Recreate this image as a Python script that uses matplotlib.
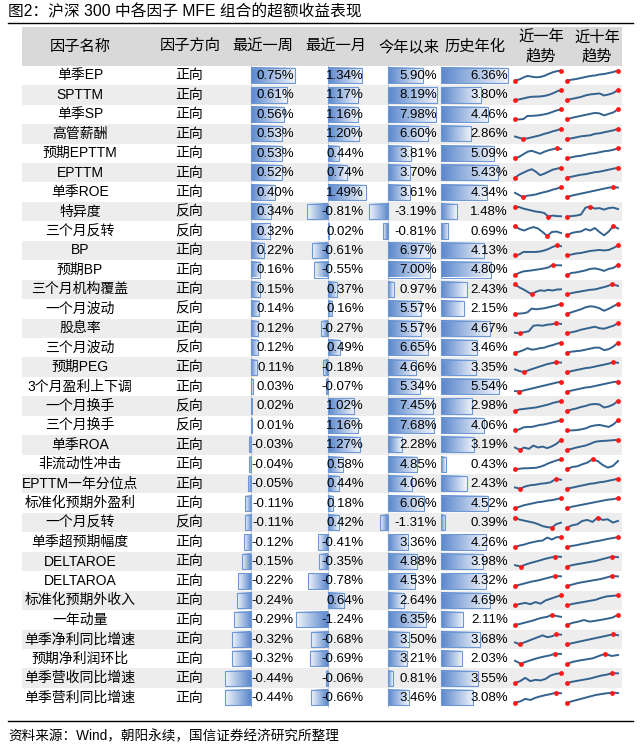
import numpy as np
import matplotlib
matplotlib.use("Agg")
import matplotlib.pyplot as plt
from matplotlib.patches import Rectangle
from matplotlib.colors import LinearSegmentedColormap

plt.rcParams["font.family"] = ["Liberation Sans", "Noto Sans CJK SC", "DejaVu Sans"]

names = ["单季EP", "SPTTM", "单季SP", "高管薪酬", "预期EPTTM", "EPTTM", "单季ROE", "特异度",
         "三个月反转", "BP", "预期BP", "三个月机构覆盖", "一个月波动", "股息率", "三个月波动",
         "预期PEG", "3个月盈利上下调", "一个月换手", "三个月换手", "单季ROA", "非流动性冲击",
         "EPTTM一年分位点", "标准化预期外盈利", "一个月反转", "单季超预期幅度", "DELTAROE",
         "DELTAROA", "标准化预期外收入", "一年动量", "单季净利同比增速", "预期净利润环比",
         "单季营收同比增速", "单季营利同比增速"]
direction = ["正向"] * 7 + ["反向", "反向"] + ["正向"] * 3 + ["反向", "正向", "反向", "正向", "正向",
             "反向", "反向", "正向", "正向", "正向", "正向", "反向"] + ["正向"] * 9
week = [0.75, 0.61, 0.56, 0.53, 0.53, 0.52, 0.40, 0.34, 0.32, 0.22, 0.16, 0.15, 0.14, 0.12, 0.12,
        0.11, 0.03, 0.02, 0.01, -0.03, -0.04, -0.05, -0.11, -0.11, -0.12, -0.15, -0.22, -0.24,
        -0.29, -0.32, -0.32, -0.44, -0.44]
month = [1.34, 1.17, 1.16, 1.20, 0.44, 0.74, 1.49, -0.81, 0.02, -0.61, -0.55, 0.37, 0.16, -0.27,
         0.49, -0.18, -0.07, 1.02, 1.16, 1.27, 0.58, 0.44, 0.18, 0.42, -0.41, -0.35, -0.78, 0.64,
         -1.24, -0.68, -0.69, -0.06, -0.66]
ytd = [5.90, 8.19, 7.98, 6.60, 3.81, 3.70, 3.61, -3.19, -0.81, 6.97, 7.00, 0.97, 5.57, 5.57, 6.65,
       4.66, 5.34, 7.45, 7.68, 2.28, 4.85, 4.06, 6.06, -1.31, 3.36, 4.88, 4.53, 2.64, 6.35, 3.50,
       3.21, 0.81, 3.46]
hist = [6.36, 3.80, 4.46, 2.86, 5.09, 5.43, 4.34, 1.48, 0.69, 4.13, 4.80, 2.43, 2.15, 4.67, 3.46,
        3.35, 5.54, 2.98, 4.06, 3.19, 0.43, 2.43, 4.52, 0.39, 4.26, 3.98, 4.32, 4.69, 2.11, 3.68,
        2.03, 3.55, 3.08]

# sparkline shapes (relative level 0..10)
trend_1y = [
    [0, 1, 3, 4.6, 3.8, 3.2, 3.5, 4.6, 6.5, 8.2, 9.3, 10],
    [0, 0.5, 1.5, 2.5, 3.2, 3.3, 3.5, 4, 5, 6.5, 8.5, 10],
    [0, 0, 0.3, 3.5, 3.5, 3.8, 4.3, 5, 6, 7.5, 9, 10],
    [2.3, 1, 0, 0.5, 1.5, 2.5, 3.5, 5, 6, 7.5, 8.5, 10],
    [0, 1.5, 4, 6.5, 7.5, 6, 4.5, 6.5, 8, 9, 10, 9.3],
    [0, 3, 5, 7, 8.5, 6, 2.5, 4, 6, 8, 9, 10],
    [4.3, 2, 0, 1.5, 2, 2.7, 4, 5, 6, 7.5, 8.5, 10],
    [10, 9.5, 8, 7, 6, 5, 4.5, 3.5, 0, 1, 0.5, 0.3],
    [10, 7, 5.5, 7.5, 9, 7.5, 4, 0, 4, 4.5, 3],
    [0, 1, 3.5, 3.5, 3.5, 3.5, 4, 5, 6.5, 8.5, 10, 9.3],
    [0, 2, 3.5, 4, 4.5, 5.2, 5.8, 6.5, 7.5, 10, 9.6, 9.6],
    [10, 7, 5, 2.5, 0, 2.5, 4, 3.5, 4.5, 3.8, 4.8, 5],
    [0, 0.2, 0.5, 1.5, 5.2, 4.5, 5, 5.5, 6.5, 7.5, 8.5, 10],
    [0.5, 0, 1, 2, 7.5, 8, 7.5, 8.5, 9, 10, 9.3],
    [0, 1, 2.5, 4.5, 3, 3.5, 4.5, 5, 6.5, 7.5, 9, 10],
    [2.7, 1, 0, 2, 3.5, 5, 6.5, 8, 9, 10, 9.5],
    [0.5, 0, 1, 2, 3, 4, 5, 6, 7, 8, 9, 10],
    [0, 1.5, 2, 2.5, 3, 3.5, 4.5, 5.5, 6.5, 8, 9, 10],
    [0, 1, 3, 3.5, 3.5, 4.5, 5.5, 6, 7, 8, 9, 10],
    [2.3, 0, 2.3, 1, 4.3, 2.3, 3.3, 1.7, 3.5, 6, 10],
    [0, 0.5, 1, 1, 1.3, 1.5, 2.5, 4, 6, 7.5, 9, 10],
    [1.3, 0, 2.3, 3.5, 4, 5, 5.5, 6.5, 10, 9],
    [0, 1.5, 3, 4, 5, 6, 6.5, 7.5, 8, 9, 10],
    [10, 8, 7, 6, 5, 3.5, 1.5, 0.5, 0, 3.5, 5],
    [0, 1.5, 2.5, 4, 5, 6, 6.5, 9.5, 7.5, 9.8, 10],
    [1.3, 0, 2.3, 4, 5.5, 7.3, 8.7, 10, 9.7],
    [0, 1.5, 3, 4.5, 5.5, 7, 8.5, 10, 9.6],
    [0, 1.5, 2.5, 1.2, 3.3, 1.7, 5, 6.7, 8.5, 10],
    [0, 0.8, 2, 3.2, 4.4, 6, 7.2, 8, 10, 8.8, 8],
    [1.8, 0, 1.8, 3.6, 5.4, 7.1, 8.9, 7.1, 7.9, 10, 9.6],
    [2.9, 0, 2.1, 4, 5.7, 7.1, 8.2, 10, 9.8],
    [0, 2, 5.3, 2, 3.3, 2.7, 4.3, 7.7, 9.3, 10],
    [0, 1.1, 3.7, 2.6, 4.8, 6.3, 7.5, 8.5, 10, 9.3],
]
trend_10y = [
    [0, 0.8, 1.5, 2.5, 3.5, 4.5, 5, 6, 6.5, 7.5, 8.5, 10],
    [0, 1, 2, 3, 4.5, 5.5, 6, 6.5, 4.5, 5.5, 7, 10],
    [0, 1.5, 2.5, 3.5, 4.5, 5.5, 6.5, 6, 4, 5.5, 7, 10],
    [0, 0.5, 1.5, 2.5, 3, 3.5, 5, 5.5, 6.5, 7.5, 8.5, 10],
    [0, 1, 2, 2.5, 3.5, 4.5, 5, 6, 7, 7.5, 8.5, 10],
    [0, 1, 2, 3, 3.5, 4.5, 5.5, 6, 7, 8, 9, 10],
    [0, 1.5, 2.5, 3.5, 4.5, 5.5, 6.5, 7.5, 8.5, 9.5, 10, 9.6],
    [0, 0.5, 1, 2, 9, 10, 8, 8.5, 7, 8.5, 9, 7.5],
    [0.6, 3, 4, 4.5, 7, 5.5, 8, 4, 0.7, 4.5, 10, 7.5],
    [0, 1, 2, 2.5, 3.5, 4.5, 5, 5.5, 5, 5.5, 7.5, 10],
    [0, 2, 2.5, 3.5, 4.5, 6, 6.5, 5.5, 4, 6, 7, 10],
    [0, 1.5, 2.5, 3.5, 4.5, 5, 6.5, 8, 10, 8.5],
    [0, 1.5, 3, 4.5, 6.5, 7.5, 7, 5.5, 3, 5, 7.5, 10],
    [0, 1, 2, 3.5, 4.5, 5.5, 6.5, 5, 4.5, 6, 7.5, 10],
    [0, 1, 1.5, 2, 3, 4, 5, 5, 2.5, 3.5, 6, 10],
    [0, 1, 2, 3, 4, 4.5, 5.5, 6.5, 7.5, 8.5, 10, 9.3],
    [0, 1, 2, 3, 4, 4.5, 5.5, 6.5, 7.5, 8.5, 9.5, 10],
    [0, 1.5, 2.5, 4, 5, 6.5, 7, 6.5, 3.5, 4.5, 6.5, 10],
    [0, 0, 0.3, 1, 2, 4, 5, 5.5, 4.5, 3.5, 6, 10],
    [0, 1, 2.3, 3.3, 4.3, 6, 8, 8.7, 9, 9.3, 9.7, 10],
    [0, 2.3, 3, 5, 6.7, 10, 8.3, 4.3, 1.7, 3.3, 8.3],
    [0, 1, 2, 3, 4, 5, 5.5, 6.5, 7, 8, 9, 10],
    [0, 1.5, 2.5, 3.5, 4.5, 5.5, 6.5, 7.5, 8.5, 9, 10],
    [0, 2.3, 3.3, 6.7, 7.7, 5.7, 10, 7.7, 8.3, 5, 6.7],
    [0, 1.2, 2, 3.2, 4, 5.2, 6, 7, 8.2, 9, 10],
    [0, 1.5, 2.5, 3.5, 4.5, 5.5, 7, 8.5, 10, 9.3],
    [0, 1.5, 3, 4, 5, 6, 7, 8.5, 10, 9.5],
    [0, 1.5, 2.5, 3.5, 4.5, 5.5, 7.5, 9, 9.5, 10],
    [0, 2, 3.2, 4.8, 3.2, 4, 5, 6, 7.2, 10],
    [0, 1, 2, 3, 4, 5, 6, 7, 8, 9, 10, 9],
    [0, 2, 3.3, 4.3, 5.3, 7.7, 10, 7.7, 8.7],
    [0, 1.5, 2.5, 3.5, 4.5, 6, 7.5, 8.5, 10, 9.8],
    [0, 1.5, 3, 4.5, 6, 7.5, 8.5, 9.3, 10, 9.5],
]

headers = ["因子名称", "因子方向", "最近一周", "最近一月", "今年以来", "历史年化", "近一年\n趋势", "近十年\n趋势"]

W, H = 640, 755
fig = plt.figure(figsize=(W / 100, H / 100), dpi=100)
ax = fig.add_axes([0, 0, 1, 1])
ax.axis("off")

cmap = LinearSegmentedColormap.from_list("bar", ["#5A87CC", "#F2F5FB"])
grad = np.linspace(0, 1, 64).reshape(1, -1)

y0, rh = 75.5, 19.44
tleft, tright = 22, 622

# title / frame
ax.text(8, 12, "图2：沪深 300 中各因子 MFE 组合的超额收益表现", fontsize=11.3, va="center", ha="left")
ax.plot([8, 633], [23, 23], color="black", lw=1.0)
ax.add_patch(Rectangle((tleft, 27), tright - tleft, y0 - rh / 2 - 27, color="#D9D9D9", lw=0))
hx = [80, 190, 263, 336, 409, 475, 541, 597]
for x, h in zip(hx, headers):
    ax.text(x, 47, h, fontsize=11, ha="center", va="center", linespacing=1.35)

# columns: zero position, px per %, text right edge
cols = [(week, 251, 59.0, 294), (month, 328, 25.5, 364), (ytd, 388, 6.0, 437), (hist, 441, 10.5, 508)]

for i, nm in enumerate(names):
    yc = y0 + i * rh
    if i % 2 == 1:
        ax.add_patch(Rectangle((tleft, yc - rh / 2), tright - tleft, rh, color="#EDEDED", lw=0, zorder=0))
    ax.text(80, yc, nm, fontsize=10, ha="center", va="center", zorder=5)
    ax.text(189, yc, direction[i], fontsize=10, ha="center", va="center", zorder=5)
    for vals, zx, sc, tx in cols:
        v = vals[i]
        x1 = zx + v * sc
        bt, bb = yc - 7.6, yc + 7.6
        ax.imshow(grad, extent=[zx, x1, bb, bt], cmap=cmap, aspect="auto", zorder=2,
                  interpolation="bilinear")
        ax.add_patch(Rectangle((min(zx, x1), bt), abs(x1 - zx), bb - bt, fill=False,
                               edgecolor="#6E98D4", lw=0.8, zorder=3))
        ax.text(tx, yc + 0.5, f"{v:.2f}%", fontsize=9.5, ha="right", va="center", zorder=5)
    for series, xa, xb in ((trend_1y[i], 515, 561), (trend_10y[i], 567, 618)):
        s = np.asarray(series, dtype=float)
        xs = np.linspace(xa, xb, len(s))
        ys = yc + 5 - s
        ax.plot(xs, ys, color="#33628F", lw=1.4, zorder=4, solid_joinstyle="round")
        for k in (int(np.argmax(s)), int(np.argmin(s))):
            ax.plot(xs[k], ys[k], "o", color="#FF1A1A", ms=3.5, mec="none", zorder=6)

# zero axes for columns with negatives
ytop, ybot = y0 - rh / 2, y0 + (len(names) - 0.5) * rh
for vals, zx, sc, tx in cols[:3]:
    ax.plot([zx, zx], [ytop, ybot], color="#CFCFCF", lw=0.8, zorder=1)

ax.plot([8, 633], [721, 721], color="black", lw=1.0)
ax.text(8, 736, "资料来源：Wind，朝阳永续，国信证券经济研究所整理", fontsize=9.8, ha="left", va="center")

ax.set_xlim(0, W)
ax.set_ylim(H, 0)
fig.savefig("out.png", dpi=100)
